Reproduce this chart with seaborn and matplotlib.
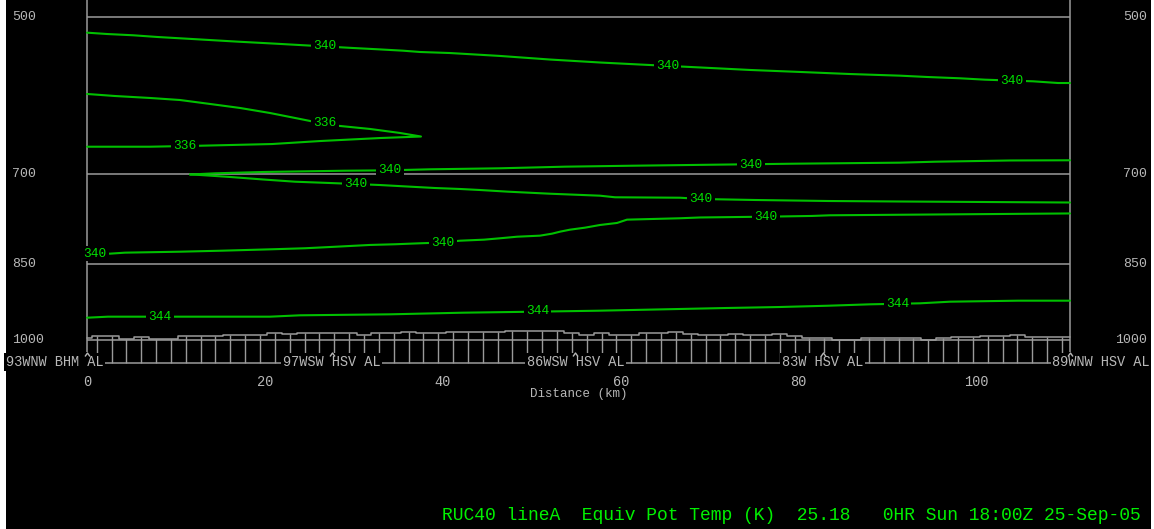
import numpy as np
import pandas as pd
import matplotlib
matplotlib.use("Agg")
import matplotlib.pyplot as plt
from matplotlib.path import Path
from matplotlib.ticker import NullLocator
import seaborn as sns

# ------------------------------------------------------------------
# Cross-section data: distance along the line (km) and pressure (hPa)
# ------------------------------------------------------------------
levels_hpa = [500, 700, 850, 1000]
dist_ticks_km = [0, 20, 40, 60, 80, 100]
section_len_km = 110.5

loc_names = ["93WNW BHM AL", "97WSW HSV AL", "86WSW HSV AL", "83W HSV AL", "89WNW HSV AL"]
loc_km = [0.0, 27.5, 54.9, 82.7, 110.5]

# model columns along the section and surface pressure under each one
column_km = np.linspace(1.09, 109.59, 66)
terrain_hpa = [991.5, 991.5, 997.2, 994.3, 997.2, 997.2, 992.1, 992.1, 992.1, 988.7,
               988.7, 988.7, 985.1, 986.6, 985.1, 985.1, 985.1, 985.1, 988.7, 985.1,
               985.1, 983.0, 985.1, 985.1, 982.4, 982.4, 982.4, 982.4, 980.3, 980.3,
               981.5, 980.3, 984.5, 990.0, 985.1, 989.3, 989.3, 985.1, 985.1, 982.4,
               987.2, 988.7, 988.7, 987.8, 990.0, 990.0, 987.8, 991.5, 996.4, 996.4,
               999.4, 999.4, 996.4, 996.4, 996.4, 996.4, 999.4, 996.4, 993.6, 993.6,
               992.5, 992.5, 990.0, 993.6, 993.6, 993.6]
terrain_left_hpa = 996.4
terrain_right_hpa = 993.6

# equivalent potential temperature isolines
c340_top_km = [0.0, 2.25, 5.17, 7.87, 12.37, 16.97, 19.78, 22.48, 29.90, 32.71, 35.52, 37.43,
               40.80, 46.43, 52.05, 57.67, 62.16, 68.91, 74.53, 80.15, 85.77, 91.39, 94.42,
               98.13, 100.94, 106.34, 109.15, 110.5]
c340_top_hpa = [517.1, 518.6, 520.0, 521.9, 524.5, 527.2, 528.7, 530.2, 534.4, 535.9, 537.5, 539.0,
                540.2, 543.6, 547.8, 551.3, 553.7, 557.2, 560.2, 562.6, 565.1, 567.1, 568.7,
                570.3, 572.0, 574.0, 576.1, 576.1]

c336_km = [0.0, 3.15, 7.08, 10.45, 13.83, 17.20, 20.57, 23.94, 27.32, 31.81, 35.18, 37.54,
           32.94, 26.19, 20.80, 12.70, 7.08, 0.0]
c336_hpa = [589.8, 592.4, 594.9, 597.5, 602.6, 607.8, 614.4, 622.3, 630.4, 635.8, 641.3, 646.2,
            648.3, 652.5, 656.7, 659.1, 660.5, 660.5]

c340_mid_upper_km = [11.58, 14.39, 19.78, 29.00, 34.06, 38.56, 46.43, 53.73, 61.26, 70.37,
                     79.59, 91.39, 95.32, 103.75, 110.5]
c340_mid_upper_hpa = [701.1, 699.3, 697.3, 695.4, 694.8, 693.3, 691.8, 689.4, 688.0, 686.5,
                      685.0, 683.5, 682.1, 680.3, 680.0]

c340_mid_lower_km = [11.58, 12.70, 16.07, 19.78, 23.38, 27.32, 30.13, 32.94, 36.42, 39.12, 41.92,
                     44.18, 47.32, 52.05, 57.67, 59.35, 66.65, 69.02, 75.09, 83.30, 91.39, 110.5]
c340_mid_lower_hpa = [701.1, 701.8, 704.8, 708.6, 712.0, 714.0, 715.5, 717.1, 719.7, 721.7, 723.2,
                      724.8, 727.4, 730.6, 733.7, 736.2, 736.9, 738.9, 740.5, 742.1, 742.9, 744.5]

c340_low_km = [0.0, 2.59, 4.27, 10.45, 15.18, 20.80, 24.51, 28.10, 31.81, 34.62, 37.43, 40.02,
               41.92, 44.63, 46.43, 48.34, 50.92, 52.27, 53.17, 54.29, 55.98, 57.67, 59.58,
               60.70, 66.65, 68.91, 76.33, 81.50, 83.52, 110.5]
c340_low_hpa = [830.2, 830.9, 829.1, 827.4, 825.6, 823.1, 821.3, 818.5, 815.5, 814.3, 812.6, 811.2,
                808.1, 806.3, 803.9, 801.2, 799.4, 796.0, 792.6, 789.2, 785.8, 781.3, 777.9,
                772.4, 770.1, 768.8, 767.5, 766.3, 765.2, 762.2]

c344_km = [0.0, 2.36, 20.57, 23.94, 34.06, 42.27, 50.13, 57.44, 64.86, 71.72, 77.79, 83.30,
           88.02, 93.64, 97.01, 104.65, 110.5]
c344_hpa = [953.3, 951.2, 951.2, 948.4, 946.4, 943.1, 941.1, 939.1, 936.3, 933.7, 931.7, 929.1,
            926.3, 924.3, 921.1, 919.1, 919.1]

# isoline labels
clabel_text = ["340", "340", "340", "336", "336", "340", "340", "340", "340",
               "340", "340", "340", "344", "344", "344"]
clabel_km = [26.75, 65.30, 103.98, 26.75, 11.02, 34.06, 74.64, 30.24, 69.02,
             0.90, 40.02, 76.33, 8.21, 50.64, 91.11]
clabel_hpa = [532.1, 555.4, 573.2, 628.1, 659.8, 694.8, 686.2, 715.5, 738.9,
              830.6, 812.1, 767.5, 951.9, 939.7, 924.7]

title_text = "RUC40 lineA  Equiv Pot Temp (K)  25.18   0HR Sun 18:00Z 25-Sep-05"

# ------------------------------------------------------------------
# Styling
# ------------------------------------------------------------------
GREEN_LINE = "#00c000"
GREEN_TEXT = "#00e000"
GREEN_TITLE = "#00f000"
GRAY_TEXT = "#b8b8b8"
GRAY_LINE = "#9a9a9a"

sns.set_theme(style="dark", rc={"axes.facecolor": "black", "figure.facecolor": "white"})
plt.rcParams["font.family"] = ["Liberation Mono", "DejaVu Sans Mono"]

fig = plt.figure(figsize=(11.54, 5.29), dpi=100, facecolor="white")
ax = fig.add_axes([6 / 1154, 0, 1145 / 1154, 1])
ax.set_facecolor("black")
ax.set_yscale("log")
ax.set_xlim(-9.105, 119.60)
ax.set_ylim(1500.2, 482.1)
ax.grid(False)
for s in ax.spines.values():
    s.set_visible(False)
ax.tick_params(which="both", left=False, bottom=False, labelleft=False, labelbottom=False)
ax.yaxis.set_minor_locator(NullLocator())
ax.xaxis.set_minor_locator(NullLocator())

# layout pressures for the annotation rows below the ground
frame_bottom_hpa = 1026.1
baseline_hpa = 1051.3
loc_label_hpa = 1048.5
caret_hpa = 1035.0
xtick_label_hpa = 1093.5
xlabel_hpa = 1123.5
title_hpa = 1455.8

# open chevron used to flag each named location on the base line
caret = Path([(-1.0, 0.0), (0.0, 1.4), (1.0, 0.0)],
             [Path.MOVETO, Path.LINETO, Path.LINETO])

# pressure levels and frame
ax.hlines(levels_hpa, 0, section_len_km, color=GRAY_LINE, lw=1.1, zorder=1)
ax.vlines([0, section_len_km], 482.1, frame_bottom_hpa, color=GRAY_LINE, lw=1.1, zorder=1)
for lev in levels_hpa:
    ax.text(-8.46, lev, str(lev), color=GRAY_TEXT, fontsize=9.5, ha="left", va="center")
    ax.text(119.15, lev, str(lev), color=GRAY_TEXT, fontsize=9.5, ha="right", va="center")

# terrain profile, column ticks and base line
ter_km = np.concatenate([[0.0], column_km, [section_len_km]])
ter_hpa = np.concatenate([[terrain_left_hpa], terrain_hpa, [terrain_right_hpa]])
terrain = pd.DataFrame({"km": ter_km, "hpa": ter_hpa})
sns.lineplot(data=terrain, x="km", y="hpa", ax=ax, sort=False, estimator=None,
             color=GRAY_LINE, lw=1.1, drawstyle="steps-mid", zorder=2)
ax.vlines(column_km, terrain_hpa, baseline_hpa, color=GRAY_LINE, lw=1.0, zorder=2)
ax.hlines(baseline_hpa, 0, section_len_km, color=GRAY_LINE, lw=1.1, zorder=2)

# location names along the base line
for i, (name, km) in enumerate(zip(loc_names, loc_km)):
    if i == 0:
        x, ha = km + 1.8, "right"
    elif i == len(loc_names) - 1:
        x, ha = km - 2.0, "left"
    else:
        x, ha = km, "center"
    ax.text(x, loc_label_hpa, name, color=GRAY_TEXT, fontsize=9.8, ha=ha, va="center",
            zorder=4, bbox=dict(boxstyle="square,pad=0.12", fc="black", ec="none"))
ax.plot(loc_km, [caret_hpa] * len(loc_km), linestyle="none", marker=caret, markersize=5,
        markerfacecolor="none", markeredgecolor=GRAY_TEXT, markeredgewidth=1.0, zorder=5)

# distance axis
for d in dist_ticks_km:
    ax.text(d, xtick_label_hpa, str(d), color=GRAY_TEXT, fontsize=9.8, ha="center", va="center")
ax.text(section_len_km / 2, xlabel_hpa, "Distance (km)", color=GRAY_TEXT, fontsize=9.0,
        ha="center", va="center")

# isolines
segments = [
    (c340_top_km, c340_top_hpa),
    (c336_km, c336_hpa),
    (c340_mid_upper_km, c340_mid_upper_hpa),
    (c340_mid_lower_km, c340_mid_lower_hpa),
    (c340_low_km, c340_low_hpa),
    (c344_km, c344_hpa),
]
iso = pd.concat(
    [pd.DataFrame({"km": k, "hpa": p, "seg": i}) for i, (k, p) in enumerate(segments)],
    ignore_index=True,
)
sns.lineplot(data=iso, x="km", y="hpa", units="seg", estimator=None, sort=False,
             color=GREEN_LINE, lw=1.5, ax=ax, zorder=3)

for txt, km, p in zip(clabel_text, clabel_km, clabel_hpa):
    ax.text(km, p, txt, color=GREEN_TEXT, fontsize=9.3, ha="center", va="center", zorder=6,
            bbox=dict(boxstyle="square,pad=0.15", fc="black", ec="none"))

ax.set_xlabel("")
ax.set_ylabel("")

# title line
ax.text(118.48, title_hpa, title_text, color=GREEN_TITLE, fontsize=13, ha="right", va="center")

fig.savefig("out.png", dpi=100, facecolor=fig.get_facecolor())
